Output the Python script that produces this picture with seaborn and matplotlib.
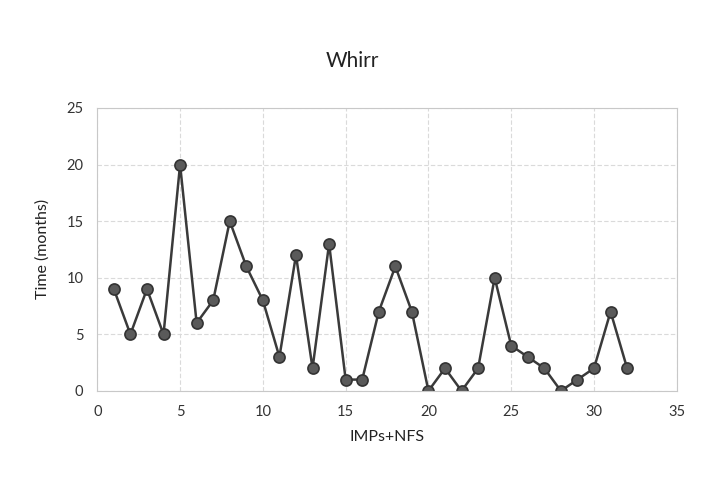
import matplotlib
matplotlib.use("Agg")
import matplotlib.pyplot as plt
import seaborn as sns
import pandas as pd

x_vals = list(range(1, 33))
time_months = [9, 5, 9, 5, 20, 6, 8, 15, 11, 8, 3, 12, 2, 13, 1, 1,
               7, 11, 7, 0, 2, 0, 2, 10, 4, 3, 2, 0, 1, 2, 7, 2]
x_ticks = [0, 5, 10, 15, 20, 25, 30, 35]
y_ticks = [0, 5, 10, 15, 20, 25]

sns.set_theme(style="white")
plt.rcParams['font.family'] = ['Lato', 'DejaVu Sans']

df = pd.DataFrame({"IMPs+NFS": x_vals, "Time (months)": time_months})

fig = plt.figure(figsize=(7.05, 4.82), dpi=100)
ax = fig.add_axes([0.138, 0.189, 0.822, 0.587])
sns.lineplot(data=df, x="IMPs+NFS", y="Time (months)", ax=ax,
             color="#3a3a3a", linewidth=1.8, marker="o", markersize=8,
             markerfacecolor="#5a5a5a", markeredgecolor="#333333",
             markeredgewidth=1.2)
ax.set_xlim(0, 35)
ax.set_ylim(0, 25)
ax.set_xticks(x_ticks)
ax.set_yticks(y_ticks)
ax.grid(True, color="#dadada", linestyle=(0, (4, 2)), linewidth=0.8)
for s in ax.spines.values():
    s.set_color("#c8c8c8")
    s.set_linewidth(0.8)
ax.tick_params(axis="both", length=0, labelsize=10.5, colors="#333333", pad=10)
ax.set_xlabel("IMPs+NFS", fontsize=11.5, color="#222222", labelpad=8)
ax.set_ylabel("Time (months)", fontsize=11.5, color="#222222", labelpad=12)
fig.suptitle("Whirr", fontsize=15, color="#222222", y=0.895)
fig.savefig("out.png", dpi=100, facecolor="white")
